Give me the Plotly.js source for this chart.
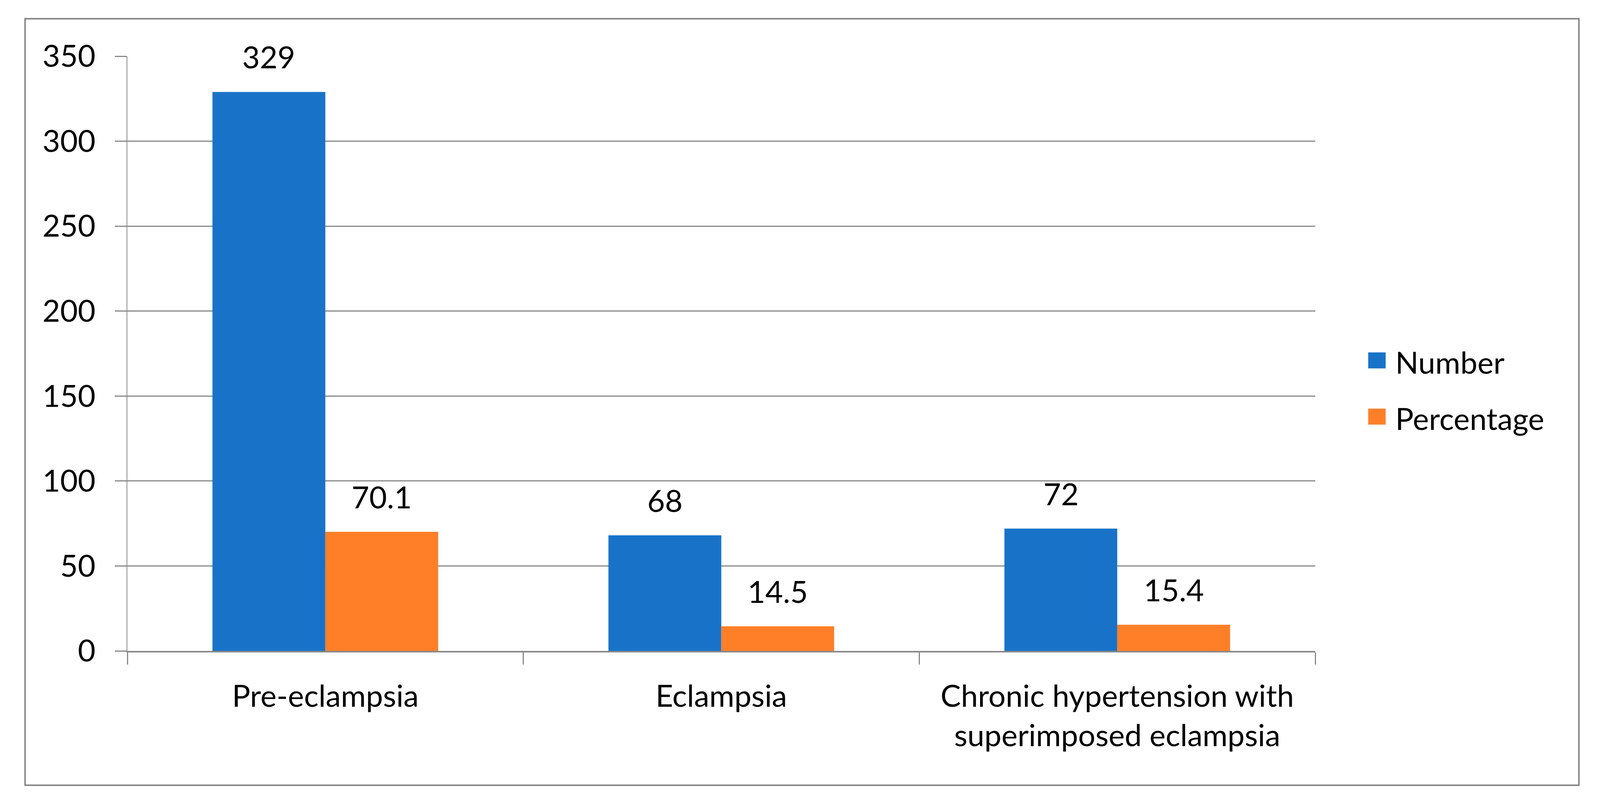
<!DOCTYPE html>
<html>
<head>
<meta charset="utf-8">
<script src="https://cdn.plot.ly/plotly-3.0.1.min.js"></script>
<style>
  html, body { margin: 0; padding: 0; background: #fff; overflow: hidden; }
  #chart { width: 100vw; height: 100vh; }
</style>
</head>
<body>
<div id="chart"></div>
<script>
const categories = ['Pre-eclampsia', 'Eclampsia', 'Chronic hypertension with<br>superimposed eclampsia'];
const numberValues = [329, 68, 72];
const percentageValues = [70.1, 14.5, 15.4];
const seriesNames = ['Number', 'Percentage'];
const yTicks = [0, 50, 100, 150, 200, 250, 300, 350];

// layout was measured on a 4404 x 2077 picture; scale it to the real window
const W = window.innerWidth || 4404;
const H = window.innerHeight || 2077;
const sx = W / 4404, sy = H / 2077;

const margin = {
    l: Math.round(350 * sx),
    r: Math.round(W - 3620 * sx),
    t: Math.round(144 * sy),
    b: Math.round(H - 1667 * sy),
    pad: 0
};
const plotWidth = W - margin.l - margin.r;
const plotHeight = H - margin.t - margin.b;
const px2paperX = x => (x * sx - margin.l) / plotWidth;
const px2paperY = y => (H - margin.b - y * sy) / plotHeight;

const bargap = 0.43;
const fontFamily = 'Lato, "Open Sans", sans-serif';
const fontSize = 78;
const gray = '#898989';
const colors = ['#1873c8', '#fe7f28'];
const textFont = {family: fontFamily, size: fontSize, color: '#000'};

const series = [numberValues, percentageValues];

const traces = series.map((vals, i) => ({
    type: 'bar',
    name: seriesNames[i],
    x: categories,
    y: vals,
    marker: {color: colors[i], line: {width: 0}},
    hoverinfo: 'skip',
    showlegend: false
}));

// data labels above each bar
const catWidth = plotWidth / categories.length;
const barPx = catWidth * (1 - bargap) / series.length;
const annotations = [];
series.forEach((vals, i) => {
    vals.forEach((v, j) => {
        annotations.push({
            x: categories[j],
            y: v,
            text: String(v),
            showarrow: false,
            xanchor: 'center',
            yanchor: 'bottom',
            xshift: (i - (series.length - 1) / 2) * barPx,
            yshift: 41 * sy,
            font: textFont
        });
    });
});

// legend on the right, Excel style square keys
const legendRows = [923, 1067];
const shapes = [];
seriesNames.forEach((name, i) => {
    shapes.push({
        type: 'rect',
        xref: 'paper', yref: 'paper',
        x0: px2paperX(3766), x1: px2paperX(3814),
        y0: px2paperY(legendRows[i] + 20.5), y1: px2paperY(legendRows[i] - 20.5),
        line: {width: 0},
        fillcolor: colors[i]
    });
    annotations.push({
        xref: 'paper', yref: 'paper',
        x: px2paperX(3838), y: px2paperY(legendRows[i] + 4),
        xanchor: 'left', yanchor: 'middle',
        text: name,
        showarrow: false,
        font: textFont
    });
});

// outer chart border
shapes.push({
    type: 'rect',
    xref: 'paper', yref: 'paper',
    x0: px2paperX(69), x1: px2paperX(4346),
    y0: px2paperY(2011), y1: px2paperY(48),
    line: {color: gray, width: 4},
    fillcolor: 'rgba(0,0,0,0)',
    layer: 'below'
});

const layout = {
    width: W,
    height: H,
    margin: margin,
    paper_bgcolor: '#fff',
    plot_bgcolor: '#fff',
    font: textFont,
    barmode: 'group',
    bargap: bargap,
    bargroupgap: 0,
    showlegend: false,
    xaxis: {
        type: 'category',
        showgrid: false,
        showline: true,
        linecolor: gray,
        linewidth: 4,
        ticks: 'outside',
        tickson: 'boundaries',
        ticklen: 31,
        tickwidth: 3,
        tickcolor: gray,
        ticklabelstandoff: 45,
        tickfont: textFont,
        fixedrange: true
    },
    yaxis: {
        range: [0, 350],
        tickvals: yTicks,
        ticktext: yTicks.map(String),
        showgrid: true,
        gridcolor: gray,
        gridwidth: 3,
        zeroline: false,
        showline: true,
        linecolor: gray,
        linewidth: 2,
        ticks: 'outside',
        ticklen: Math.round(32 * sx),
        tickwidth: 3,
        tickcolor: gray,
        ticklabelstandoff: 34,
        tickfont: textFont,
        fixedrange: true
    },
    annotations: annotations,
    shapes: shapes
};

Plotly.newPlot('chart', traces, layout, {staticPlot: true, displayModeBar: false});
</script>
</body>
</html>
